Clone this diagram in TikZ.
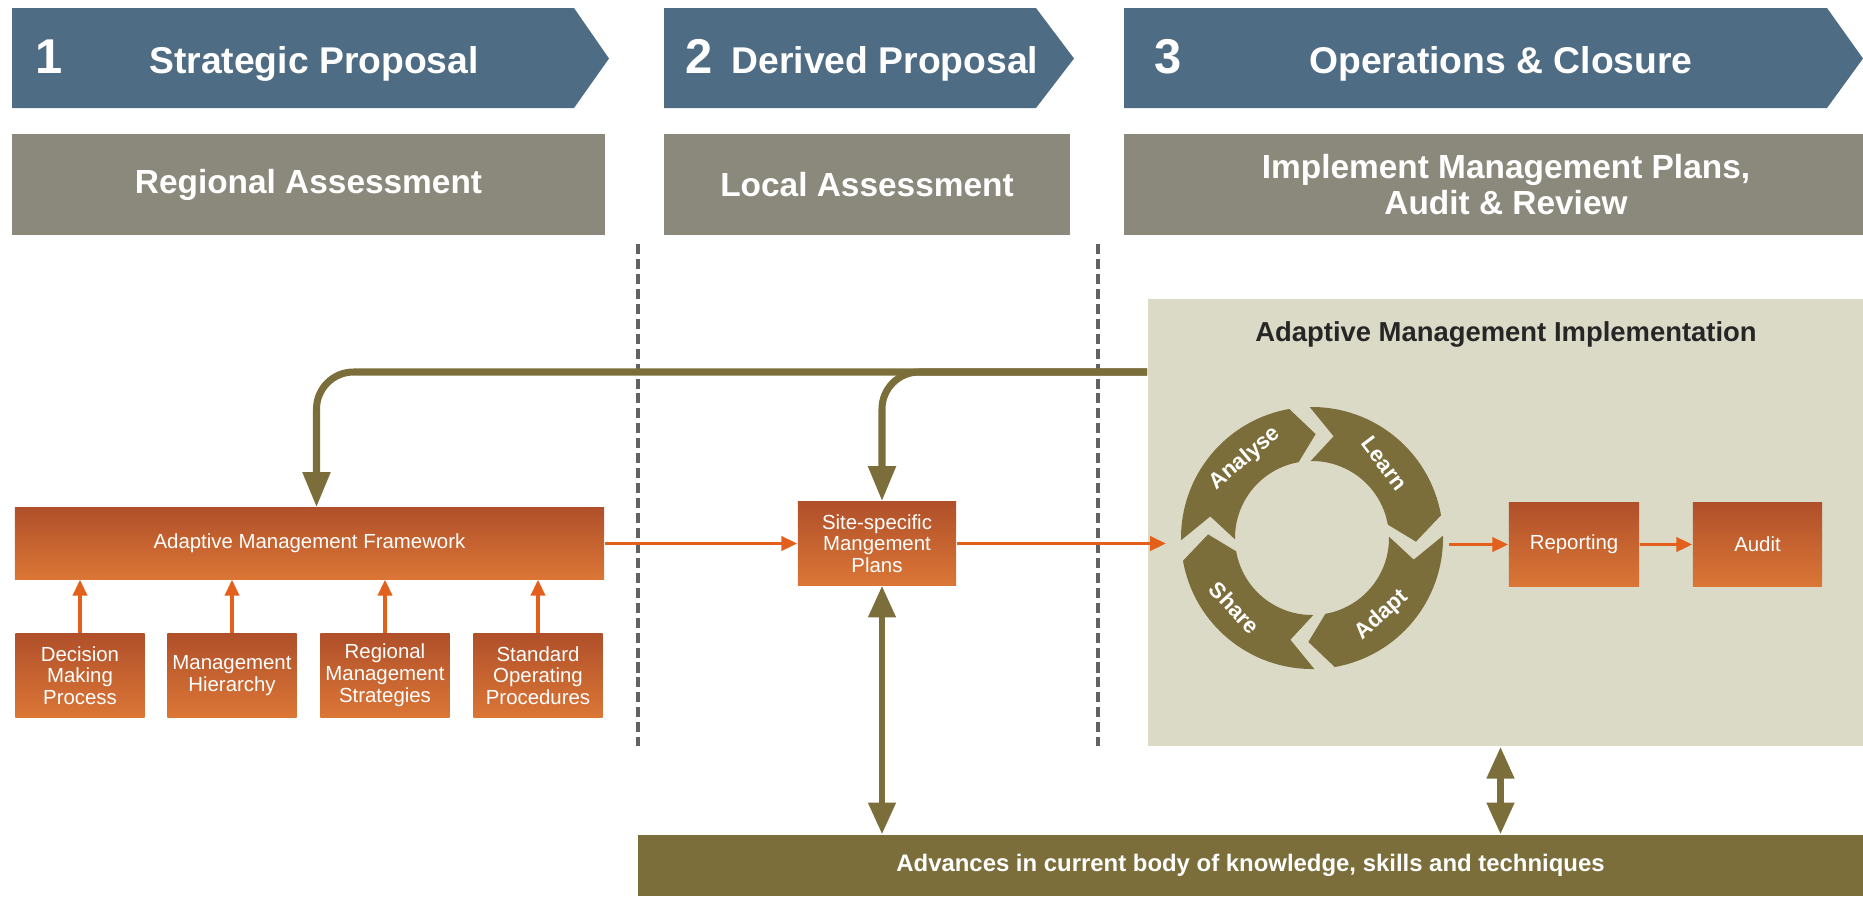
\documentclass[tikz,border=0pt]{standalone}
\usepackage{fontspec}
\setmainfont{Liberation Sans}
\usepackage{tikz}
\usetikzlibrary{arrows.meta, positioning, calc}
\definecolor{stageblue}{HTML}{4F6C85}
\definecolor{assessgray}{HTML}{8B897B}
\definecolor{olivebrown}{HTML}{7B6E3B}
\definecolor{panelbeige}{HTML}{DBDAC7}
\definecolor{boxtop}{HTML}{B0502A}
\definecolor{boxbottom}{HTML}{DB7636}
\definecolor{arroworange}{HTML}{E35F1C}
\definecolor{sepgray}{HTML}{626262}

\begin{document}
\begin{tikzpicture}[x=0.01cm, y=-0.01cm,
    stagetxt/.style={text=white, anchor=base, font=\fontsize{10.6}{12}\selectfont\bfseries},
    stagenum/.style={text=white, anchor=base, font=\fontsize{13.9}{15}\selectfont\bfseries},
    assess/.style={fill=assessgray, text=white, align=center, inner sep=0pt, minimum height=1cm, font=\fontsize{9.5}{10.2}\selectfont\bfseries},
    obox/.style={top color=boxtop, bottom color=boxbottom, text=white, align=center, inner sep=0pt, font=\fontsize{5.8}{6.2}\selectfont},
    oarrow/.style={draw=arroworange, line width=1pt, -{Triangle[length=4.5pt, width=4pt]}},
    fbarrow/.style={draw=olivebrown, line width=2pt, rounded corners=0.37cm, -{Triangle[length=10pt, width=7.5pt]}},
    dblarrow/.style={draw=olivebrown, line width=1.8pt, {Triangle[length=9pt, width=7.5pt]}-{Triangle[length=9pt, width=7.5pt]}},
    sepline/.style={draw=sepgray, line width=1.4pt, dash pattern=on 2.85pt off 1.4pt},
    ringtxt/.style={text=white, font=\fontsize{6.3}{7}\selectfont\bfseries}
]
\useasboundingbox (0,0) rectangle (1863,896);

% Stage headers
\foreach \xa/\xb/\xc in {12/574/609, 664/1036/1074, 1124/1827/1863} {
    \fill[stageblue] (\xa,8) -- (\xb,8) -- (\xc,58.5) -- (\xb,108) -- (\xa,108) -- cycle;
}
\node[stagenum] (num1) at (49,73) {1};
\node[stagetxt] (stage1) at (314,73) {Strategic Proposal};
\node[stagenum] (num2) at (699,73) {2};
\node[stagetxt] (stage2) at (885,73) {Derived Proposal};
\node[stagenum] (num3) at (1168,73) {3};
\node[stagetxt] (stage3) at (1501,73) {Operations \& Closure};

% Assessment bars
\node[assess, minimum width=5.93cm] (regional) at (308.5,184.5) {Regional Assessment};
\node[assess, minimum width=4.06cm] (local) at (867,184.5) {Local Assessment};
\node[assess, minimum width=7.39cm] (implement) at (1493.5,184.5) {\hspace*{0.25cm}Implement Management Plans,\\\hspace*{0.25cm}Audit \& Review};

% Stage separators
\draw[sepline] (638,244) -- (638,746);
\draw[sepline] (1098,244) -- (1098,746);

% Implementation panel
\node[fill=panelbeige, minimum width=7.15cm, minimum height=4.47cm, inner sep=0pt] (amipanel) at (1505.5,522.5) {};
\node[anchor=base, font=\fontsize{7.8}{9}\selectfont\bfseries, text=black!85] (amititle) at (1506,341) {Adaptive Management Implementation};

% Knowledge bar
\node[fill=olivebrown, text=white, minimum width=12.25cm, minimum height=0.61cm, inner sep=0pt,
      font=\fontsize{6.8}{8}\selectfont\bfseries] (advances) at (1250.5,865.5)
      {Advances in current body of knowledge, skills and techniques};

% Framework and its inputs
\node[obox, minimum width=5.89cm, minimum height=0.71cm] (amf) at (309.5,543.5) {Adaptive Management Framework};
\foreach \i/\xc/\txt in {1/80/{Decision\\Making\\Process}, 2/232/{Management\\Hierarchy},
                          3/385/{Regional\\Management\\Strategies}, 4/538/{Standard\\Operating\\Procedures}} {
    \node[obox, minimum width=1.29cm, minimum height=0.83cm] (input\i) at (\xc,675.5) {\txt};
    \draw[oarrow] (input\i.north) -- (input\i.north |- amf.south);
}

% Site plans, reporting, audit
\node[obox, minimum width=1.58cm, minimum height=0.83cm] (ssmp) at (877,543.5) {Site-specific\\Mangement\\Plans};
\node[obox, minimum width=1.3cm, minimum height=0.83cm] (report) at (1574,544.5) {Reporting};
\node[obox, minimum width=1.29cm, minimum height=0.83cm] (audit) at (1757.5,544.5) {Audit};

% Adaptive cycle
\coordinate (cyc) at (1312,538);
\begin{scope}[shift={(cyc)}, yscale=-1]
    \foreach \t/\h/\lbl/\la/\rot in {181/100/Analyse/130/40, 91/10/Learn/46/-53,
                                     1/-80/Adapt/-48/42, -89/-170/Share/-138/-47} {
        \fill[olivebrown] (\t:131) arc[start angle=\t, end angle=\h, radius=131]
            -- (\h-12:104) -- (\h:77) arc[start angle=\h, end angle=\t, radius=77]
            -- (\t-13:104) -- cycle;
        \node[ringtxt, rotate=\rot] (ring\lbl) at (\la:104) {\lbl};
    }
\end{scope}
\coordinate (cycin) at (1166,544);
\coordinate (cycout) at (1449,545);

% Orange flow
\draw[oarrow] (amf.east) -- (ssmp.west);
\draw[oarrow] (ssmp.east) -- (ssmp.east -| cycin);
\draw[oarrow] (cycout |- report.west) -- (report.west);
\draw[oarrow] (report.east) -- (audit.west);

% Feedback from implementation
\coordinate (fbrow) at (0,372);
\coordinate (fb) at (amipanel.west |- fbrow);
\draw[fbarrow] (fb) -| ([xshift=0.07cm]amf.north);
\draw[fbarrow] (fb) -| ([xshift=0.05cm]ssmp.north);

% Links to knowledge
\draw[dblarrow] ([xshift=0.05cm]ssmp.south) -- ([xshift=0.05cm]ssmp.south |- advances.north);
\draw[dblarrow] ([xshift=-0.05cm]amipanel.south) -- ([xshift=-0.05cm]amipanel.south |- advances.north);

\end{tikzpicture}
\end{document}
